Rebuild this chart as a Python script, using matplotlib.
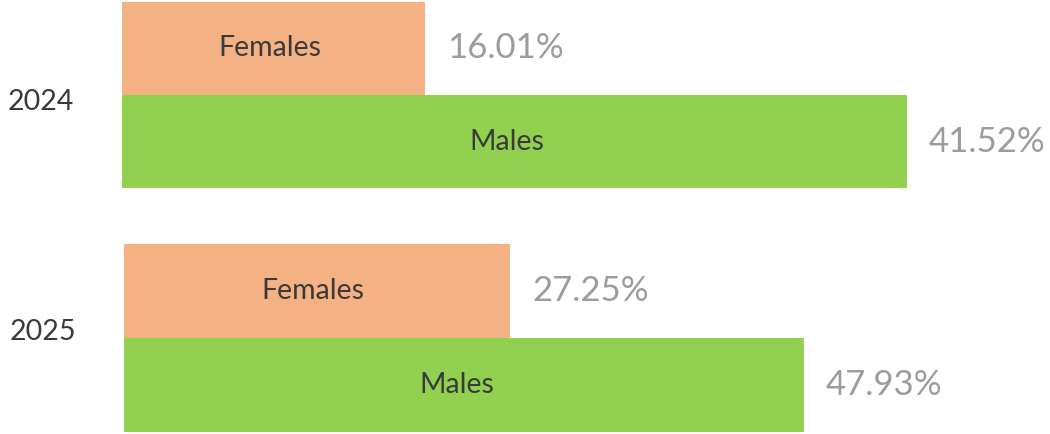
import matplotlib.pyplot as plt

# data
years = ['2024', '2025']
groups = ['Females', 'Males']
females = [16.01, 27.25]
males = [41.52, 47.93]

colors = {'Females': '#F4B183', 'Males': '#92D050'}
text_col = '#3a3a3a'
val_col = '#9c9c9c'

plt.rcParams['font.family'] = ['Lato', 'DejaVu Sans']

W, H = 1050, 434
fig = plt.figure(figsize=(W / 100, H / 100), dpi=100)

# axes boxes in pixels (left, top, right, bottom) and x-range, one panel per year
boxes = [(122, 2, 1050, 188), (124, 244, 1050, 432)]
xmax = [49.1, 65.3]

for i, year in enumerate(years):
    l, t, r, b = boxes[i]
    ax = fig.add_axes([l / W, (H - b) / H, (r - l) / W, (b - t) / H])
    vals = {'Females': females[i], 'Males': males[i]}
    ypos = {'Females': 1, 'Males': 0}
    for g in groups:
        v = vals[g]
        ax.barh(ypos[g], v, height=1, color=colors[g])
        ax.text(v * 0.49, ypos[g], g, ha='center', va='center',
                fontsize=20.5, color=text_col)
        ax.annotate(f'{v:.2f}%', (v, ypos[g]), xytext=(16, 0),
                    textcoords='offset points', ha='left', va='center',
                    fontsize=25, color=val_col)
    ax.set_xlim(0, xmax[i])
    ax.set_ylim(-0.5, 1.5)
    ax.axis('off')
    ax.text(-114 / (r - l), 0.46 if i == 0 else 0.53, year,
            transform=ax.transAxes, ha='left', va='center',
            fontsize=20.5, color=text_col)

fig.savefig('out.png', dpi=100)
